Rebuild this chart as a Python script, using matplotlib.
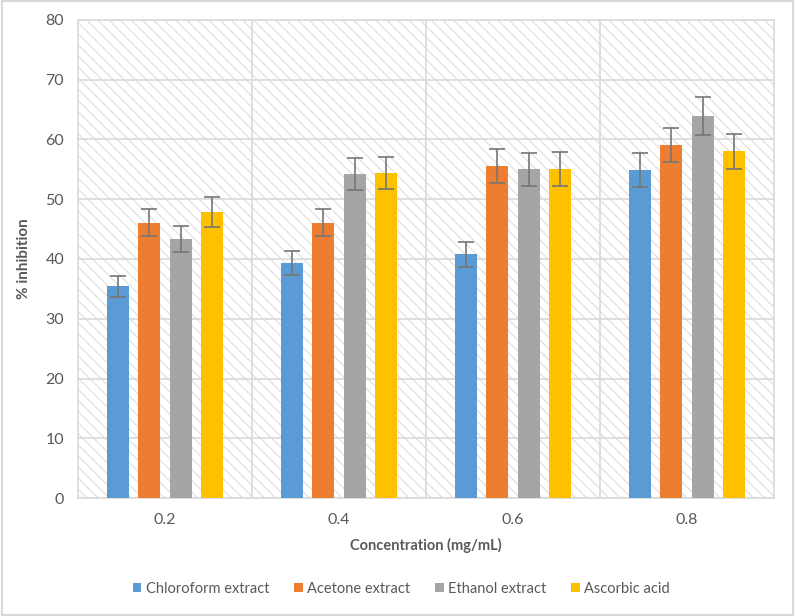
import matplotlib
matplotlib.use('Agg')
import matplotlib.pyplot as plt
import numpy as np
from matplotlib.patches import Rectangle, Patch

# data
concentrations = ['0.2', '0.4', '0.6', '0.8']
series_names = ['Chloroform extract', 'Acetone extract', 'Ethanol extract', 'Ascorbic acid']
chloroform = [35.4, 39.3, 40.8, 54.9]
acetone = [46.1, 46.1, 55.6, 59.1]
ethanol = [43.4, 54.2, 55.0, 63.9]
ascorbic = [47.9, 54.4, 55.1, 58.0]
chloroform_err = [1.8, 2.0, 2.1, 2.8]
acetone_err = [2.3, 2.3, 2.8, 2.8]
ethanol_err = [2.2, 2.7, 2.8, 3.2]
ascorbic_err = [2.5, 2.7, 2.8, 2.9]

values = [chloroform, acetone, ethanol, ascorbic]
errors = [chloroform_err, acetone_err, ethanol_err, ascorbic_err]
colors = ['#5B9BD5', '#ED7D31', '#A5A5A5', '#FFC000']

plt.rcParams['font.family'] = ['Lato', 'DejaVu Sans']
plt.rcParams['hatch.linewidth'] = 0.8
grid_col = '#d9d9d9'
text_col = '#595959'

fig = plt.figure(figsize=(7.95, 6.16), dpi=100)
ax = fig.add_axes([78/795, 1-498/616, (774-78)/795, (498-20)/616])

# hatched plot area background
ax.patch.set_facecolor('white')
ax.add_patch(Rectangle((0, 0), 1, 1, transform=ax.transAxes, facecolor='white',
                       edgecolor='#dedede', hatch='\\\\\\', linewidth=0, zorder=0))

x = np.arange(len(concentrations))
step = 0.181
width = 0.126
offsets = (np.arange(4) - 1.5) * step
for i in range(4):
    ax.bar(x + offsets[i], values[i], width, color=colors[i], zorder=3,
           yerr=errors[i], error_kw=dict(ecolor='#767676', elinewidth=1.2, capsize=5.5,
                                         capthick=1.2, zorder=4))

ax.set_xlim(-0.5, 3.5)
ax.set_ylim(0, 80)
ax.set_yticks(range(0, 81, 10))
ax.set_xticks(x)
ax.set_xticklabels(concentrations)
ax.set_xticks([0.5, 1.5, 2.5], minor=True)
ax.yaxis.grid(True, color=grid_col, linewidth=1.2, zorder=1)
ax.xaxis.grid(True, which='minor', color=grid_col, linewidth=1.2, zorder=1)
ax.set_axisbelow(True)
for s in ax.spines.values():
    s.set_color(grid_col)
    s.set_linewidth(1.2)
ax.tick_params(axis='both', which='both', length=0, labelsize=11.5, colors=text_col)
ax.tick_params(axis='y', pad=10)
ax.tick_params(axis='x', pad=11)

fig.text(24/795, 1-259/616, '% inhibition', rotation=90, ha='center', va='center',
         fontsize=11, fontweight='bold', color=text_col)
fig.text(426/795, 1-545/616, 'Concentration (mg/mL)', ha='center', va='center',
         fontsize=10.5, fontweight='bold', color=text_col)

handles = [Patch(facecolor=c, edgecolor='none') for c in colors]
fig.legend(handles, series_names, loc='center', bbox_to_anchor=(0.505, 1-589/616), ncol=4,
           frameon=False, fontsize=10.5, handlelength=0.6, handleheight=0.6,
           handletextpad=0.3, columnspacing=1.7, labelcolor=text_col)

# outer chart border
fig.add_artist(Rectangle((0.002, 0.002), 0.996, 0.996, transform=fig.transFigure,
                         fill=False, edgecolor=grid_col, linewidth=1.5))

fig.savefig('out.png', dpi=100)
